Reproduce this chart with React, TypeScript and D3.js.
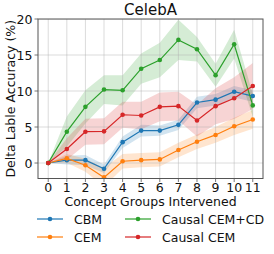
import React from "react";
import * as d3 from "d3";

const steps = [0, 1, 2, 3, 4, 5, 6, 7, 8, 9, 10, 11];
const yTicks = [0, 5, 10, 15, 20];

const cbmMean = [0, 0.4, 0.4, -0.8, 2.9, 4.5, 4.5, 5.3, 8.4, 8.8, 9.9, 9.3];
const cbmStd = [0, 0.6, 0.7, 0.6, 0.8, 0.8, 0.7, 0.7, 0.8, 0.8, 0.8, 0.8];

const cemMean = [0, 0.65, -0.3, -2.0, 0.25, 0.4, 0.5, 1.8, 2.95, 3.9, 5.1, 6.05];
const cemStd = [0, 0.6, 0.9, 1.3, 1.0, 1.0, 1.0, 1.0, 1.0, 1.1, 1.2, 1.3];

const cdMean = [0, 4.35, 7.8, 10.2, 10.1, 13.1, 14.3, 17.1, 15.8, 12.2, 16.5, 8.0];
const cdStd = [0, 2.1, 2.3, 2.0, 2.1, 2.1, 2.4, 2.8, 1.7, 1.6, 2.0, 1.6];

const ccemMean = [0, 1.95, 4.35, 4.4, 6.7, 6.6, 7.8, 7.9, 5.9, 7.9, 9.0, 10.7];
const ccemStd = [0, 1.5, 1.8, 1.8, 1.8, 1.9, 2.0, 2.0, 2.2, 2.5, 2.9, 3.2];

const seriesNames = ["CBM", "CEM", "Causal CEM+CD", "Causal CEM"];
const seriesColors = ["#1f77b4", "#ff7f0e", "#2ca02c", "#d62728"];
const seriesMeans = [cbmMean, cemMean, cdMean, ccemMean];
const seriesStds = [cbmStd, cemStd, cdStd, ccemStd];

const W = 274;
const H = 254;
const left = 38;
const right = 263;
const top = 19;
const bottom = 178.5;

export default function App() {
  const x = d3.scaleLinear().domain([-0.55, 11.55]).range([left, right]);
  const y = d3.scaleLinear().domain([-2.15, 20]).range([bottom, top]);
  const font = "DejaVu Sans";

  const line = d3
    .line<number>()
    .x((_, i) => x(steps[i]))
    .y((d) => y(d));

  const legendItems = [
    { idx: 0, lx: 37, row: 0 },
    { idx: 1, lx: 37, row: 1 },
    { idx: 2, lx: 125, row: 0 },
    { idx: 3, lx: 125, row: 1 },
  ];

  return (
    <svg
      width={W}
      height={H}
      style={{ position: "absolute", left: 0, top: 0, background: "#fff" }}
      fontFamily={font}
    >
      <rect x={0} y={0} width={W} height={H} fill="#fff" />
      <defs>
        <clipPath id="plotclip">
          <rect x={left} y={top} width={right - left} height={bottom - top} />
        </clipPath>
      </defs>
      <g clipPath="url(#plotclip)">
        {seriesMeans.map((m, s) => {
          const area = d3
            .area<number>()
            .x((_, i) => x(steps[i]))
            .y0((d, i) => y(d - seriesStds[s][i]))
            .y1((d, i) => y(d + seriesStds[s][i]));
          return (
            <path
              key={"band" + s}
              d={area(m) || ""}
              fill={seriesColors[s]}
              fillOpacity={0.2}
              stroke="none"
            />
          );
        })}
        {steps.map((t) => (
          <line
            key={"gx" + t}
            x1={x(t)}
            x2={x(t)}
            y1={top}
            y2={bottom}
            stroke="#b0b0b0"
            strokeOpacity={0.5}
            strokeWidth={0.9}
          />
        ))}
        {yTicks.map((t) => (
          <line
            key={"gy" + t}
            x1={left}
            x2={right}
            y1={y(t)}
            y2={y(t)}
            stroke="#b0b0b0"
            strokeOpacity={0.5}
            strokeWidth={0.9}
          />
        ))}
        {seriesMeans.map((m, s) => (
          <g key={"ln" + s}>
            <path d={line(m) || ""} fill="none" stroke={seriesColors[s]} strokeWidth={1.2} />
            {m.map((v, i) => (
              <circle key={i} cx={x(steps[i])} cy={y(v)} r={2.3} fill={seriesColors[s]} />
            ))}
          </g>
        ))}
      </g>
      <rect
        x={left}
        y={top}
        width={right - left}
        height={bottom - top}
        fill="none"
        stroke="#555"
        strokeWidth={1}
      />
      {yTicks.map((t) => (
        <g key={"yt" + t}>
          <line x1={left - 3.5} x2={left} y1={y(t)} y2={y(t)} stroke="#555" strokeWidth={0.8} />
          <text x={left - 5.5} y={y(t) + 4.5} textAnchor="end" fontSize={12.5} fill="#111">
            {t}
          </text>
        </g>
      ))}
      {steps.map((t) => (
        <g key={"xt" + t}>
          <line x1={x(t)} x2={x(t)} y1={bottom} y2={bottom + 3.5} stroke="#555" strokeWidth={0.8} />
          <text x={x(t)} y={192} textAnchor="middle" fontSize={12.5} fill="#111">
            {t}
          </text>
        </g>
      ))}
      <text x={(left + right) / 2} y={15} textAnchor="middle" fontSize={15} fill="#111">
        CelebA
      </text>
      <text x={(left + right) / 2} y={206} textAnchor="middle" fontSize={12.5} fill="#111">
        Concept Groups Intervened
      </text>
      <text
        transform={`translate(15, ${(top + bottom) / 2}) rotate(-90)`}
        textAnchor="middle"
        fontSize={12.5}
        fill="#111"
      >
        Delta Lable Accuracy (%)
      </text>
      {legendItems.map((it) => {
        const ly = it.row === 0 ? 219 : 237;
        return (
          <g key={"lg" + it.idx}>
            <line
              x1={it.lx}
              x2={it.lx + 26}
              y1={ly}
              y2={ly}
              stroke={seriesColors[it.idx]}
              strokeWidth={1.2}
            />
            <circle cx={it.lx + 13} cy={ly} r={2.3} fill={seriesColors[it.idx]} />
            <text x={it.lx + 37} y={ly + 4.5} fontSize={12.5} fill="#111">
              {seriesNames[it.idx]}
            </text>
          </g>
        );
      })}
    </svg>
  );
}
